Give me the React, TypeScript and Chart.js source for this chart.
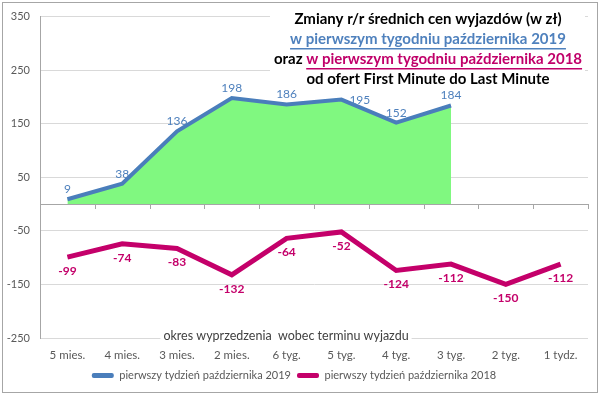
import React, { useEffect, useRef } from "react";
import { Chart, registerables } from "chart.js";

Chart.register(...registerables);

const categories = ["5 mies.", "4 mies.", "3 mies.", "2 mies.", "6 tyg.", "5 tyg.", "4 tyg.", "3 tyg.", "2 tyg.", "1 tydz."];
const values2019: (number | null)[] = [9, 38, 136, 198, 186, 195, 152, 184, null, null];
const values2018: number[] = [-99, -74, -83, -132, -64, -52, -124, -112, -150, -112];
const labelSide2019 = ["above", "above", "above", "above", "above", "right", "above", "above", "above", "above"];
const label2019 = "pierwszy tydzień października 2019";
const label2018 = "pierwszy tydzień października 2018";
const yMin = -250;
const yMax = 350;
const yStep = 100;
const titleLine1 = "Zmiany r/r średnich cen wyjazdów (w zł)";
const titleLine2 = "w pierwszym tygodniu października 2019";
const titleLine3a = "oraz ";
const titleLine3b = "w pierwszym tygodniu października 2018";
const titleLine4 = "od ofert First Minute do Last Minute";
const axisTitle = "okres wyprzedzenia  wobec terminu wyjazdu";

const FONT = "Lato, 'Open Sans', sans-serif";
const BLUE = "#4A7EBB";
const BLUE_TXT = "#4F81BD";
const GREEN = "#80F880";
const PINK = "#C4006A";
const GRAY = "#595959";

const overlayPlugin = {
  id: "overlay",
  beforeDatasetsDraw(chart: any) {
    const { ctx, chartArea, scales } = chart;
    const y0 = scales.y.getPixelForValue(0);
    ctx.save();
    ctx.strokeStyle = "#a6a6a6";
    ctx.lineWidth = 1;
    ctx.beginPath();
    ctx.moveTo(chartArea.left, Math.round(y0) + 0.5);
    ctx.lineTo(chartArea.right, Math.round(y0) + 0.5);
    const n = categories.length;
    const w = (chartArea.right - chartArea.left) / n;
    for (let i = 1; i <= n; i++) {
      const x = Math.round(chartArea.left + w * i) + 0.5;
      ctx.moveTo(x, Math.round(y0));
      ctx.lineTo(x, Math.round(y0) + 5);
    }
    ctx.stroke();
    ctx.restore();
  },
  afterDatasetsDraw(chart: any) {
    const { ctx } = chart;
    ctx.save();
    ctx.textBaseline = "middle";
    const m0 = chart.getDatasetMeta(0);
    ctx.font = `12px ${FONT}`;
    ctx.fillStyle = BLUE_TXT;
    m0.data.forEach((pt: any, i: number) => {
      const v = values2019[i];
      if (v === null) return;
      if (labelSide2019[i] === "right") {
        ctx.textAlign = "left";
        ctx.fillText(String(v), pt.x + 8, pt.y);
      } else {
        ctx.textAlign = "center";
        ctx.fillText(String(v), pt.x, pt.y - 10);
      }
    });
    const m1 = chart.getDatasetMeta(1);
    ctx.font = `bold 12px ${FONT}`;
    ctx.fillStyle = PINK;
    ctx.textAlign = "center";
    m1.data.forEach((pt: any, i: number) => {
      ctx.fillText(String(values2018[i]), pt.x, pt.y + 14);
    });
    ctx.restore();
  },
  afterDraw(chart: any) {
    const { ctx } = chart;
    ctx.save();
    // title block
    ctx.fillStyle = "#ffffff";
    ctx.fillRect(270, 5, 315, 83);
    const cx = 428;
    ctx.textBaseline = "middle";
    ctx.textAlign = "left";
    ctx.font = `bold 15px ${FONT}`;
    const drawCentered = (t: string, y: number, color: string, underline: boolean) => {
      const w = ctx.measureText(t).width;
      const x = cx - w / 2;
      ctx.fillStyle = color;
      ctx.fillText(t, x, y);
      if (underline) {
        ctx.fillRect(x, y + 9, w, 1.5);
      }
    };
    drawCentered(titleLine1, 19, "#000000", false);
    drawCentered(titleLine2, 39, "#4F81BD", true);
    const wa = ctx.measureText(titleLine3a).width;
    const wb = ctx.measureText(titleLine3b).width;
    const x3 = cx - (wa + wb) / 2;
    ctx.fillStyle = "#000000";
    ctx.fillText(titleLine3a, x3, 59);
    ctx.fillStyle = "#C0006A";
    ctx.fillText(titleLine3b, x3 + wa, 59);
    ctx.fillRect(x3 + wa, 59 + 9, wb, 1.5);
    drawCentered(titleLine4, 79, "#000000", false);
    // axis title
    ctx.font = `12.5px ${FONT}`;
    ctx.fillStyle = "#ffffff";
    const at = ctx.measureText(axisTitle).width;
    const ax = 286;
    ctx.fillRect(ax - at / 2 - 3, 326, at + 6, 21);
    ctx.fillStyle = "#404040";
    ctx.textAlign = "center";
    ctx.fillText(axisTitle, ax, 336);
    ctx.restore();
  },
};

export default function App() {
  const ref = useRef<HTMLCanvasElement | null>(null);
  useEffect(() => {
    document.body.style.margin = "0";
    const canvas = ref.current;
    if (!canvas) return;
    const chart = new Chart(canvas, {
      type: "line",
      data: {
        labels: categories,
        datasets: [
          {
            label: label2019,
            data: values2019,
            borderColor: BLUE,
            backgroundColor: GREEN,
            borderWidth: 4,
            fill: "origin",
            pointRadius: 0,
            tension: 0,
            spanGaps: false,
          },
          {
            label: label2018,
            data: values2018,
            borderColor: PINK,
            backgroundColor: PINK,
            borderWidth: 5,
            fill: false,
            pointRadius: 0,
            tension: 0,
          },
        ],
      },
      options: {
        animation: false,
        responsive: false,
        maintainAspectRatio: false,
        layout: { padding: { left: 0, right: 12, top: 15, bottom: 4 } },
        plugins: {
          tooltip: { enabled: false },
          legend: {
            position: "bottom",
            labels: {
              color: GRAY,
              font: { family: FONT, size: 11 },
              boxWidth: 22,
              boxHeight: 5,
              padding: 6,
              useBorderRadius: true,
              borderRadius: 2,
              generateLabels: (c: any) => {
                const items = Chart.defaults.plugins.legend.labels.generateLabels(c);
                items.forEach((it: any, i: number) => {
                  const col = c.data.datasets[i].borderColor;
                  it.fillStyle = col;
                  it.strokeStyle = col;
                  it.lineWidth = 0;
                });
                return items;
              },
            },
          },
        },
        scales: {
          x: {
            offset: true,
            grid: { display: false, drawTicks: false },
            border: { display: false },
            ticks: { color: GRAY, font: { family: FONT, size: 11.5 }, padding: 10, maxRotation: 0 },
            afterFit: (s: any) => {
              s.height = 26;
            },
          },
          y: {
            min: yMin,
            max: yMax,
            grid: { color: "#d9d9d9", drawTicks: false },
            border: { display: true, color: "#a6a6a6" },
            ticks: {
              stepSize: yStep,
              color: GRAY,
              font: { family: FONT, size: 11 },
              padding: 10,
            },
            afterBuildTicks: (s: any) => {
              const t = [];
              for (let v = yMin; v <= yMax; v += yStep) t.push({ value: v });
              s.ticks = t;
            },
            afterFit: (s: any) => {
              s.width = 40;
            },
          },
        },
      },
      plugins: [overlayPlugin],
    });
    return () => chart.destroy();
  }, []);
  return (
    <div style={{ position: "absolute", left: 0, top: 0, width: 600, height: 395, background: "#fff" }}>
      <canvas ref={ref} width={600} height={395} style={{ display: "block" }} />
      <div
        style={{
          position: "absolute",
          left: 2,
          top: 2,
          width: 594,
          height: 389,
          border: "1px solid #a6a6a6",
          pointerEvents: "none",
        }}
      />
    </div>
  );
}
